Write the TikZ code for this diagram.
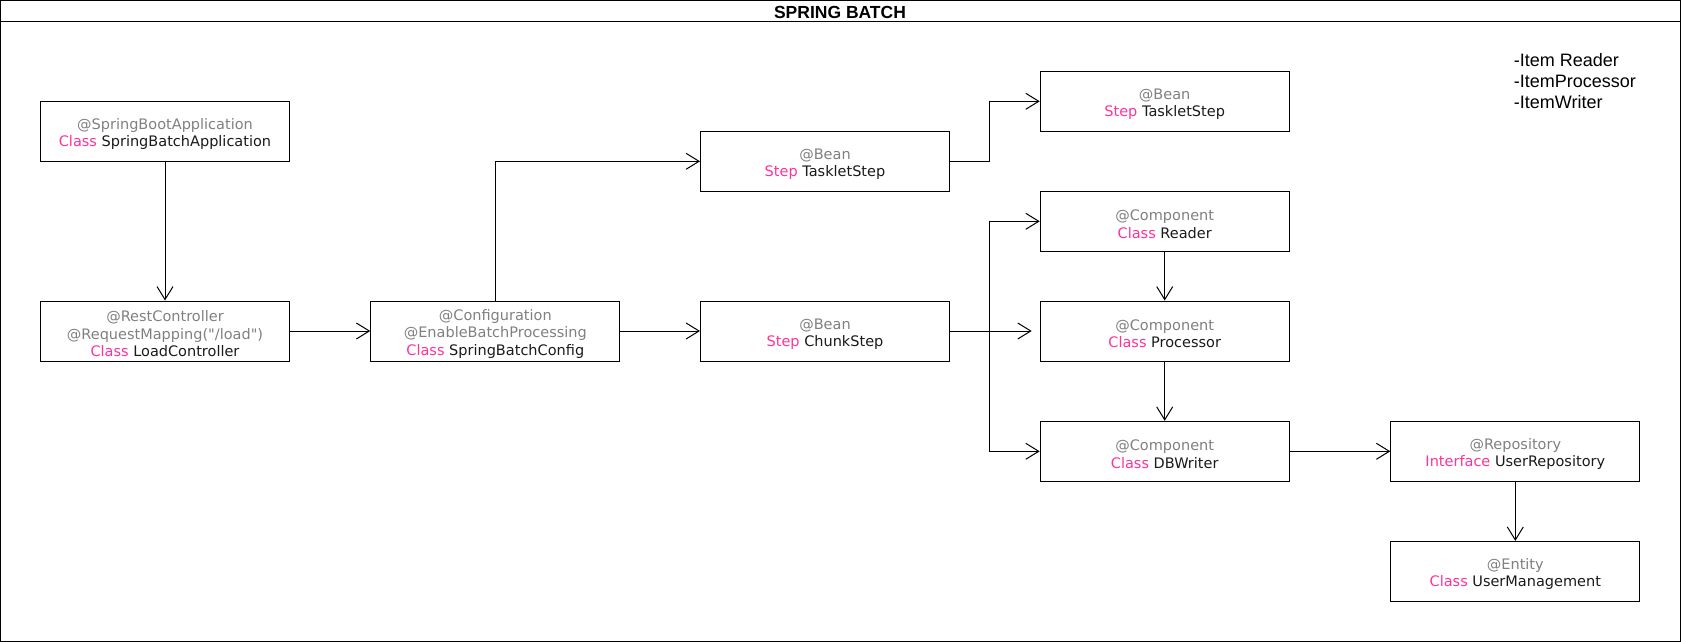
\documentclass[tikz,border=0pt]{standalone}
\usepackage{fontspec}
\setmainfont{DejaVu Sans}[Ligatures=TeXOff]
\newfontfamily\arialfont{Liberation Sans}
\usetikzlibrary{arrows.meta}
\definecolor{anngray}{HTML}{808080}
\definecolor{kwpink}{HTML}{FF3399}
\definecolor{txtblack}{HTML}{1A1A1A}
\newcommand{\annot}[1]{\textcolor{anngray}{#1}}
\newcommand{\topannot}[1]{\rule{0pt}{16.5pt}\textcolor{anngray}{#1}}
\newcommand{\kword}[1]{\textcolor{kwpink}{#1}}

\begin{document}
\begin{tikzpicture}[x=1pt, y=-1pt, >={Straight Barb[length=13pt,width=16pt]},
		cls/.style={draw, line width=1pt, minimum width=249pt, minimum height=60pt, inner sep=0pt, align=center, text=txtblack, font=\fontsize{14.5}{17.3}\selectfont},
		link/.style={->, line width=1pt}]
		\useasboundingbox (0,0) rectangle (1681,642);
		\draw[line width=1pt] (0.5,0.5) rectangle (1680.5,641.5);
		\draw[line width=1pt] (0.5,22) -- (1680.5,22);
		\node (title) at (840,12) {\arialfont\bfseries\fontsize{17.5}{20}\selectfont SPRING BATCH};
		\node[anchor=west, align=left, inner sep=0pt, font=\arialfont\fontsize{18}{21}\selectfont] (items) at (1513.7,81.5) {-Item Reader\\-ItemProcessor\\-ItemWriter};
		\node[cls] (app) at (165,131.3) {\topannot{@SpringBootApplication}\\\kword{Class} SpringBatchApplication};
		\node[cls] (load) at (165,331) {\topannot{@RestController}\\\annot{@RequestMapping("/load")}\\\kword{Class} LoadController};
		\node[cls] (cfg) at (495.3,331) {\topannot{@Configuration}\\\annot{@EnableBatchProcessing}\\\kword{Class} SpringBatchConfig};
		\node[cls] (tasklet) at (825,161.3) {\topannot{@Bean}\\\kword{Step} TaskletStep};
		\node[cls] (chunk) at (825,331) {\topannot{@Bean}\\\kword{Step} ChunkStep};
		\node[cls] (tasklet2) at (1164.7,101.3) {\topannot{@Bean}\\\kword{Step} TaskletStep};
		\node[cls] (reader) at (1164.7,221.3) {\topannot{@Component}\\\kword{Class} Reader};
		\node[cls] (proc) at (1164.7,331) {\topannot{@Component}\\\kword{Class} Processor};
		\node[cls] (writer) at (1164.7,451.3) {\topannot{@Component}\\\kword{Class} DBWriter};
		\node[cls] (repo) at (1515.3,451.3) {\topannot{@Repository}\\\kword{Interface} UserRepository};
		\node[cls] (entity) at (1515.3,571.4) {\topannot{@Entity}\\\kword{Class} UserManagement};
		\coordinate (split) at (989.5,331);
		\draw[link] (app) -- (load);
		\draw[link] (load) -- (cfg);
		\draw[link] (cfg) |- (tasklet);
		\draw[link] (cfg) -- (chunk);
		\draw[link] (tasklet) -- (tasklet -| split) |- (tasklet2);
		\draw[link, shorten >=8pt] (chunk) -- (proc);
		\draw[link] (split) |- (reader);
		\draw[link] (split) |- (writer);
		\draw[link] (reader) -- (proc);
		\draw[link] (proc) -- (writer);
		\draw[link] (writer) -- (repo);
		\draw[link] (repo) -- (entity);
	\end{tikzpicture}
\end{document}
